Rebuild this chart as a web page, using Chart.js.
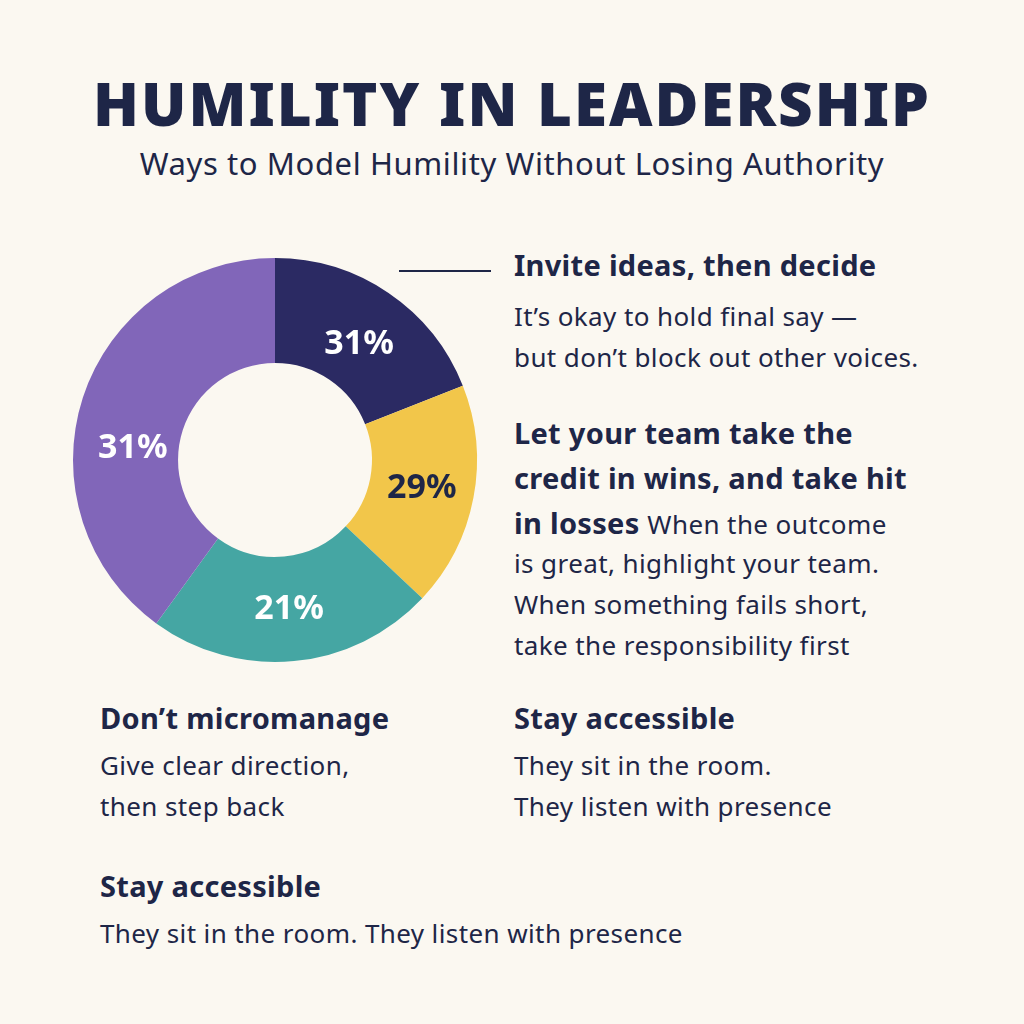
<!DOCTYPE html>
<html><head><meta charset="utf-8">
<script src="https://cdn.jsdelivr.net/npm/chart.js@4"></script>
<style>
body{margin:0;width:1024px;height:1024px;background:#fbf8f1;position:relative;overflow:hidden;font-family:"Noto Sans",sans-serif;color:#1e2647}
.t{position:absolute;white-space:nowrap}
h1{position:absolute;left:0;width:1024px;top:62px;margin:0;text-align:center;font-size:60px;font-weight:900;letter-spacing:2px;color:#1e2647}
.sub{left:0;width:1024px;text-align:center;top:142px;font-size:31px;letter-spacing:0.6px}
.h{font-weight:700;font-size:29px;letter-spacing:0.3px}
.p{font-size:26px;line-height:41px;letter-spacing:0.4px}
#wrap{position:absolute;left:65px;top:250px;width:420px;height:420px}
</style></head><body>
<h1>HUMILITY IN LEADERSHIP</h1>
<div class="t sub">Ways to Model Humility Without Losing Authority</div>
<div style="position:absolute;left:399px;top:270px;width:92px;height:2px;background:#1e2647"></div>
<div class="t h" style="left:514px;top:245px">Invite ideas, then decide</div>
<div class="t p" style="left:514px;top:296px">It’s okay to hold final say —<br>but don’t block out other voices.</div>
<div class="t h" style="left:514px;top:410px;line-height:45px">Let your team take the<br>credit in wins, and take hit<br>in losses <span class="p" style="font-weight:400">When the outcome</span></div>
<div class="t p" style="left:514px;top:543px">is great, highlight your team.<br>When something fails short,<br>take the responsibility first</div>
<div class="t h" style="left:100px;top:698px">Don’t micromanage</div>
<div class="t p" style="left:100px;top:745px">Give clear direction,<br>then step back</div>
<div class="t h" style="left:514px;top:698px">Stay accessible</div>
<div class="t p" style="left:514px;top:745px">They sit in the room.<br>They listen with presence</div>
<div class="t h" style="left:100px;top:866px">Stay accessible</div>
<div class="t p" style="left:100px;top:913px">They sit in the room. They listen with presence</div>
<div id="wrap"><canvas id="c"></canvas></div>
<script>
const categories=["Invite ideas, then decide","Let your team take the credit","Don’t micromanage","Stay accessible"];
const values=[19,18,23,40];
const sliceLabels=["31%","29%","21%","31%"];
const colors=["#2b2a63","#f2c64a","#45a6a3","#8166b9"];
const labelColors=["#ffffff","#1e2647","#ffffff","#ffffff"];
const labelShiftY=[8,0,0,35];
const labelPlugin={id:"lbl",afterDatasetsDraw(ch){const ctx=ch.ctx;ch.getDatasetMeta(0).data.forEach((a,i)=>{const p=a.tooltipPosition();ctx.save();ctx.font="bold 34px 'Noto Sans'";ctx.fillStyle=labelColors[i];ctx.textAlign="center";ctx.textBaseline="middle";ctx.fillText(sliceLabels[i],p.x,p.y+labelShiftY[i]);ctx.restore();});}};
new Chart(document.getElementById("c"),{type:"doughnut",data:{labels:categories,datasets:[{data:values,backgroundColor:colors,borderWidth:0}]},
options:{responsive:true,maintainAspectRatio:false,animation:false,cutout:"48%",plugins:{legend:{display:false},tooltip:{enabled:false}},layout:{padding:8}},plugins:[labelPlugin]});
</script></body></html>
